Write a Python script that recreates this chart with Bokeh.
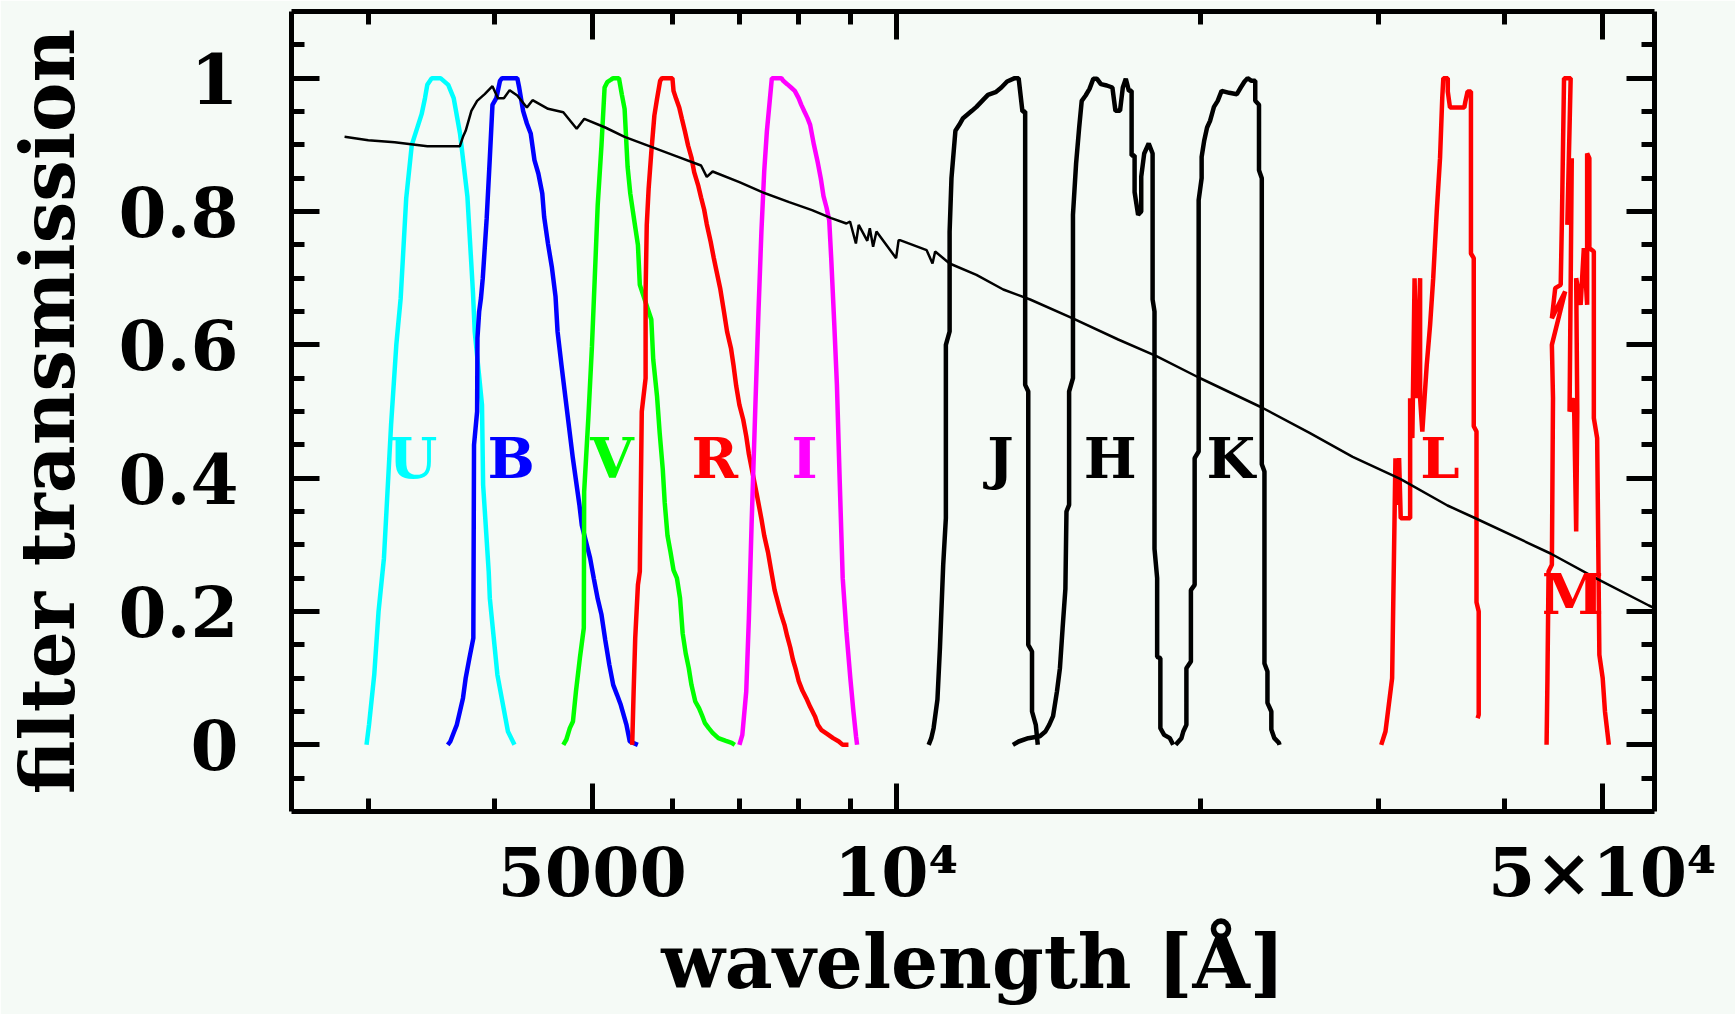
from bokeh.plotting import figure
from bokeh.models import ColumnDataSource, FixedTicker, LogAxis, LinearAxis, Range1d
from bokeh.embed import file_html
from bokeh.resources import INLINE
from bokeh.core.properties import value

# ---------------- data (wavelength in Angstrom, transmission) ----------------
U_wl = [2990, 3007, 3043, 3073, 3111, 3162, 3200, 3232, 3273, 3315, 3390, 3416, 3434, 3469, 3539,
        3602, 3647, 3700, 3763, 3811, 3826, 3890, 3900, 3950, 3960, 4029, 4127, 4189]
U_tr = [0.0, 0.03, 0.105, 0.2, 0.28, 0.48, 0.6, 0.67, 0.82, 0.9, 0.946, 0.97, 0.99, 1.0, 1.0,
        0.99, 0.97, 0.917, 0.822, 0.678, 0.62, 0.51, 0.39, 0.26, 0.22, 0.105, 0.02, 0.0]

B_wl = [3598, 3619, 3651, 3673, 3699, 3725, 3748, 3780, 3814, 3820, 3847, 3850, 3865, 3881, 3897,
        3932, 3960, 3984, 4019, 4053, 4072, 4216, 4234, 4272, 4309, 4347, 4384, 4423, 4463, 4482,
        4521, 4561, 4600, 4621, 4662, 4723, 4785, 4857, 4883, 4977, 5020, 5064, 5108, 5152, 5200,
        5246, 5292, 5337, 5407, 5448, 5549]
B_tr = [0.0, 0.005, 0.02, 0.03, 0.05, 0.07, 0.1, 0.13, 0.16, 0.45, 0.5, 0.61, 0.65, 0.67, 0.70,
        0.79, 0.88, 0.96, 0.97, 0.996, 1.0, 1.0, 0.986, 0.951, 0.932, 0.917, 0.877, 0.857, 0.827, 0.792,
        0.752, 0.717, 0.672, 0.62, 0.57, 0.5, 0.43, 0.36, 0.33, 0.28, 0.249, 0.219, 0.195, 0.157, 0.12,
        0.09, 0.075, 0.06, 0.03, 0.005, 0.0]

V_wl = [4682, 4715, 4752, 4786, 4819, 4862, 4906, 4910, 4956, 4998, 5030, 5064, 5108, 5144, 5175,
        5222, 5246, 5315, 5351, 5384, 5421, 5454, 5503, 5550, 5574, 5722, 5747, 5797, 5832, 5873,
        5899, 5937, 5978, 6019, 6066, 6109, 6146, 6189, 6232, 6270, 6325, 6379, 6420, 6464, 6522,
        6580, 6667, 6782, 6873, 6921]
V_tr = [0.0, 0.008, 0.025, 0.035, 0.08, 0.13, 0.175, 0.38, 0.488, 0.598, 0.70, 0.81, 0.9, 0.986, 0.994,
        0.998, 1.0, 1.0, 0.975, 0.954, 0.867, 0.827, 0.787, 0.75, 0.69, 0.638, 0.578, 0.523, 0.468, 0.414,
        0.364, 0.314, 0.289, 0.262, 0.25, 0.22, 0.167, 0.137, 0.115, 0.09, 0.065, 0.055, 0.045, 0.033, 0.025,
        0.018, 0.01, 0.006, 0.003, 0.0]

R_wl = [5478, 5496, 5516, 5550, 5574, 5599, 5648, 5648, 5663, 5687, 5722, 5762, 5797, 5838, 5863,
        6004, 6019, 6055, 6098, 6135, 6178, 6222, 6270, 6309, 6370, 6409, 6454, 6493, 6550, 6596,
        6636, 6694, 6752, 6800, 6861, 6903, 6944, 6994, 7055, 7104, 7147, 7274, 7354, 7401, 7465,
        7518, 7579, 7631, 7684, 7751, 7799, 7854, 7901, 7957, 8005, 8076, 8146, 8218, 8312, 8363,
        8434, 8548, 8659, 8774, 8851, 8968]
R_tr = [0.0, 0.08, 0.16, 0.24, 0.26, 0.5, 0.55, 0.68, 0.78, 0.834, 0.889, 0.944, 0.969, 0.996, 1.0,
        1.0, 0.981, 0.969, 0.956, 0.939, 0.92, 0.899, 0.881, 0.859, 0.838, 0.821, 0.803, 0.781, 0.755, 0.731,
        0.712, 0.685, 0.65, 0.62, 0.595, 0.568, 0.538, 0.51, 0.488, 0.463, 0.436, 0.377, 0.339, 0.314, 0.289,
        0.262, 0.232, 0.215, 0.198, 0.18, 0.163, 0.146, 0.128, 0.112, 0.096, 0.081, 0.07, 0.057, 0.042, 0.03,
        0.022, 0.016, 0.01, 0.005, 0.0, 0.0]

I_wl = [6994, 7041, 7104, 7147, 7191, 7254, 7305, 7354, 7401, 7446, 7499, 7531, 7696, 7730, 7799,
        7868, 7935, 8005, 8054, 8111, 8169, 8218, 8289, 8363, 8421, 8472, 8530, 8583, 8622, 8683,
        8735, 8789, 8851, 8926, 9006, 9070, 9125, 9146]
I_tr = [0.0, 0.015, 0.08, 0.19, 0.33, 0.51, 0.65, 0.77, 0.86, 0.92, 0.97, 1.0, 1.0, 0.996, 0.991,
        0.986, 0.981, 0.97, 0.96, 0.95, 0.94, 0.93, 0.9, 0.873, 0.849, 0.823, 0.806, 0.787, 0.73, 0.63,
        0.54, 0.4, 0.25, 0.17, 0.1, 0.05, 0.012, 0.0]

J_wl = [10766, 10831, 10888, 10984, 11048, 11129, 11197, 11197, 11293, 11293, 11341, 11443, 11544, 11644, 11881,
        12005, 12163, 12324, 12541, 12707, 12874, 13099, 13217, 13332, 13415, 13415, 13510, 13510, 13626, 13626,
        13744, 13806]
J_tr = [0.0, 0.01, 0.025, 0.068, 0.147, 0.27, 0.34, 0.6, 0.62, 0.77, 0.85, 0.921, 0.93, 0.94, 0.951,
        0.957, 0.966, 0.975, 0.979, 0.986, 0.995, 1.0, 1.0, 0.95, 0.95, 0.54, 0.53, 0.15, 0.14, 0.05,
        0.03, 0.0]

H_wl = [13045, 13217, 13510, 13871, 14049, 14170, 14296, 14423, 14521, 14610, 14703, 14739, 14828, 14828, 14959,
        14959, 15066, 15172, 15261, 15397, 15534, 15668, 15802, 15942, 16157, 16365, 16480, 16653, 16759, 16873,
        16994, 17098, 17098, 17215, 17215, 17354, 17477, 17477, 17596, 17778, 17936, 17936, 18014, 18014, 18123,
        18123, 18256, 18256, 18414, 18656, 18798]
H_tr = [0.0, 0.005, 0.01, 0.013, 0.02, 0.03, 0.043, 0.08, 0.115, 0.175, 0.234, 0.35, 0.36, 0.53, 0.55,
        0.795, 0.872, 0.926, 0.966, 0.974, 0.984, 0.999, 0.999, 0.991, 0.989, 0.986, 0.951, 0.951, 0.986, 0.999,
        0.981, 0.981, 0.884, 0.884, 0.829, 0.795, 0.8, 0.852, 0.887, 0.902, 0.887, 0.668, 0.65, 0.294, 0.25,
        0.132, 0.13, 0.025, 0.015, 0.01, 0.0]

K_wl = [18903, 19155, 19236, 19372, 19372, 19572, 19572, 19740, 19740, 19921, 19921, 20057, 20057, 20178, 20307,
        20446, 20628, 20805, 20991, 21359, 21734, 21927, 22117, 22272, 22470, 22663, 22663, 22858, 22858, 23004,
        23004, 23144, 23144, 23303, 23303, 23510, 23510, 23673, 23920, 23951]
K_tr = [0.0, 0.01, 0.02, 0.03, 0.115, 0.125, 0.232, 0.24, 0.43, 0.44, 0.817, 0.85, 0.882, 0.907, 0.926,
        0.936, 0.957, 0.966, 0.981, 0.978, 0.976, 0.986, 0.995, 1.0, 0.996, 0.996, 0.966, 0.96, 0.862, 0.85,
        0.421, 0.41, 0.122, 0.11, 0.063, 0.05, 0.023, 0.01, 0.003, 0.0]

L_wl = [30200, 30495, 30727, 30960, 31196, 31336, 31455, 31573, 32258, 32258, 32420, 32586, 32750, 32999, 32999,
        33166, 33333, 33503, 33760, 34000, 34275, 34532, 34707, 34793, 35148, 35148, 35325, 36496, 36587, 36771,
        37053, 37053, 37291, 37291, 37525, 37525, 37715, 37715, 37620]
L_tr = [0.0, 0.02, 0.06, 0.1, 0.43, 0.36, 0.43, 0.34, 0.34, 0.52, 0.46, 0.70, 0.52, 0.70, 0.52,
        0.47, 0.52, 0.57, 0.63, 0.70, 0.80, 0.88, 0.97, 1.0, 1.0, 0.98, 0.956, 0.956, 0.965, 0.98,
        0.98, 0.737, 0.73, 0.478, 0.47, 0.214, 0.2, 0.045, 0.04]

M_wl = [44023, 44111, 44223, 44559, 44672, 44559, 45927, 44559, 44898, 45465, 45580, 45811, 46508, 46158, 46625,
        46392, 46861, 47097, 47216, 47097, 47576, 47926, 48288, 48288, 48532, 48532, 49030, 49030, 49403, 49527,
        49652, 50029, 50290, 50737]
M_tr = [0.0, 0.1, 0.26, 0.27, 0.52, 0.6, 0.68, 0.64, 0.685, 0.69, 0.78, 1.0, 1.0, 0.78, 0.88,
        0.5, 0.52, 0.32, 0.5, 0.70, 0.66, 0.745, 0.66, 0.887, 0.88, 0.745, 0.74, 0.49, 0.46, 0.3,
        0.135, 0.1, 0.05, 0.0]

# thin black stellar spectrum (normalised)
S_wl = [2844, 3002, 3188, 3435, 3699, 3725, 3748, 3797, 3847, 3914, 3984, 4034, 4089, 4143, 4216,
        4309, 4330, 4365, 4522, 4682, 4827, 4912, 5152, 5384, 5722, 6081, 6409, 6493, 6580, 6994,
        7367, 7834, 8253, 8622, 8926, 9000, 9121, 9180, 9361, 9415, 9486, 9559, 9996, 10054, 10084,
        10717, 10861, 10927, 11293, 12005, 12761, 13568, 14934, 16583, 18094, 19921, 23004, 25649, 28299, 31536,
        35124, 37291, 44425, 49403, 55580, 56300]
S_tr = [0.912, 0.907, 0.904, 0.898, 0.898, 0.912, 0.921, 0.951, 0.966, 0.976, 0.988, 0.97, 0.97, 0.982, 0.974,
        0.956, 0.96, 0.967, 0.954, 0.949, 0.924, 0.939, 0.926, 0.912, 0.897, 0.882, 0.869, 0.852, 0.86, 0.844,
        0.829, 0.814, 0.802, 0.79, 0.782, 0.785, 0.752, 0.78, 0.756, 0.775, 0.747, 0.77, 0.73, 0.757, 0.757,
        0.742, 0.722, 0.74, 0.722, 0.705, 0.683, 0.668, 0.64, 0.608, 0.583, 0.551, 0.506, 0.468, 0.432, 0.399,
        0.359, 0.341, 0.287, 0.249, 0.209, 0.205]

band_names = ["U", "B", "V", "R", "I", "J", "H", "K", "L", "M"]
band_label_wl = [3323, 4158, 5232, 6614, 8114, 12681, 16280, 21436, 34530, 46742]
band_label_tr = [0.43, 0.43, 0.43, 0.43, 0.43, 0.43, 0.43, 0.43, 0.43, 0.227]
band_colors = ["#00ffff", "#0000ff", "#00ff00", "#ff0000", "#ff00ff",
               "#000000", "#000000", "#000000", "#ff0000", "#ff0000"]

x_major_ticks = [5000, 10000, 50000]
x_minor_ticks = [3000, 4000, 6000, 7000, 8000, 9000, 20000, 30000, 40000]
x_tick_labels = {5000: "5000", 10000: "10\u2074", 50000: "5\u00d710\u2074"}
y_major_ticks = [0, 0.2, 0.4, 0.6, 0.8, 1]
y_minor_ticks = [-0.05, 0.05, 0.1, 0.15, 0.25, 0.3, 0.35, 0.45, 0.5, 0.55, 0.65, 0.7, 0.75, 0.85, 0.9, 0.95, 1.05]
y_tick_labels = {0: "0", 0.2: "0.2", 0.4: "0.4", 0.6: "0.6", 0.8: "0.8", 1: "1"}

# ---------------- figure ----------------
BG = "#f5faf6"
FONT = "DejaVu Serif"

p = figure(width=1735, height=1014, x_axis_type="log",
           x_range=Range1d(2520, 56300), y_range=Range1d(-0.1, 1.1),
           output_backend="svg", toolbar_location=None,
           min_border_left=291, min_border_right=81, min_border_top=11, min_border_bottom=203,
           background_fill_color=BG, border_fill_color=BG)
p.outline_line_color = None
p.xgrid.visible = False
p.ygrid.visible = False

xa = p.below[0]
ya = p.left[0]

xt = FixedTicker(ticks=x_major_ticks, minor_ticks=x_minor_ticks)
yt = FixedTicker(ticks=y_major_ticks, minor_ticks=y_minor_ticks)

top = LogAxis(ticker=xt, major_label_overrides={k: "" for k in x_major_ticks})
right = LinearAxis(ticker=yt, major_label_overrides={k: "" for k in y_major_ticks})
p.add_layout(top, "above")
p.add_layout(right, "right")

for ax in [xa, ya, top, right]:
    ax.axis_line_width = 5
    ax.axis_line_color = "black"
    ax.major_tick_line_width = 5
    ax.minor_tick_line_width = 5
    ax.major_tick_in = 28
    ax.major_tick_out = 0
    ax.minor_tick_in = 13
    ax.minor_tick_out = 0
    ax.major_label_text_font = FONT
    ax.major_label_text_font_style = "bold"
    ax.major_label_text_color = "black"
    ax.axis_label_text_font = FONT
    ax.axis_label_text_font_style = "bold"
    ax.axis_label_text_color = "black"

for ax in [top, right]:
    ax.major_label_standoff = 0

xa.ticker = xt
xa.major_label_overrides = x_tick_labels
xa.major_label_text_font_size = "68px"
xa.major_label_standoff = 20
xa.axis_label = "wavelength [\u00c5]"
xa.axis_label_text_font_size = "74px"
xa.axis_label_standoff = 4

ya.ticker = yt
ya.major_label_overrides = y_tick_labels
ya.major_label_text_font_size = "69px"
ya.major_label_standoff = 53
ya.axis_label = "filter transmission"
ya.axis_label_text_font_size = "74px"
ya.axis_label_standoff = 24

curves = [
    (U_wl, U_tr, "#00ffff"),
    (B_wl, B_tr, "#0000ff"),
    (V_wl, V_tr, "#00ff00"),
    (R_wl, R_tr, "#ff0000"),
    (I_wl, I_tr, "#ff00ff"),
    (J_wl, J_tr, "#000000"),
    (H_wl, H_tr, "#000000"),
    (K_wl, K_tr, "#000000"),
    (L_wl, L_tr, "#ff0000"),
    (M_wl, M_tr, "#ff0000"),
]
for wl, tr, col in curves:
    p.line(wl, tr, line_color=col, line_width=4.5)

p.line(S_wl, S_tr, line_color="black", line_width=2.5)

lab = ColumnDataSource(dict(x=band_label_wl, y=band_label_tr, t=band_names, c=band_colors))
p.text(x="x", y="y", text="t", text_color="c", source=lab,
       text_font=value(FONT), text_font_style="bold", text_font_size="56px",
       text_align="center", text_baseline="middle")

open("out.html", "w").write(file_html(p, INLINE))
